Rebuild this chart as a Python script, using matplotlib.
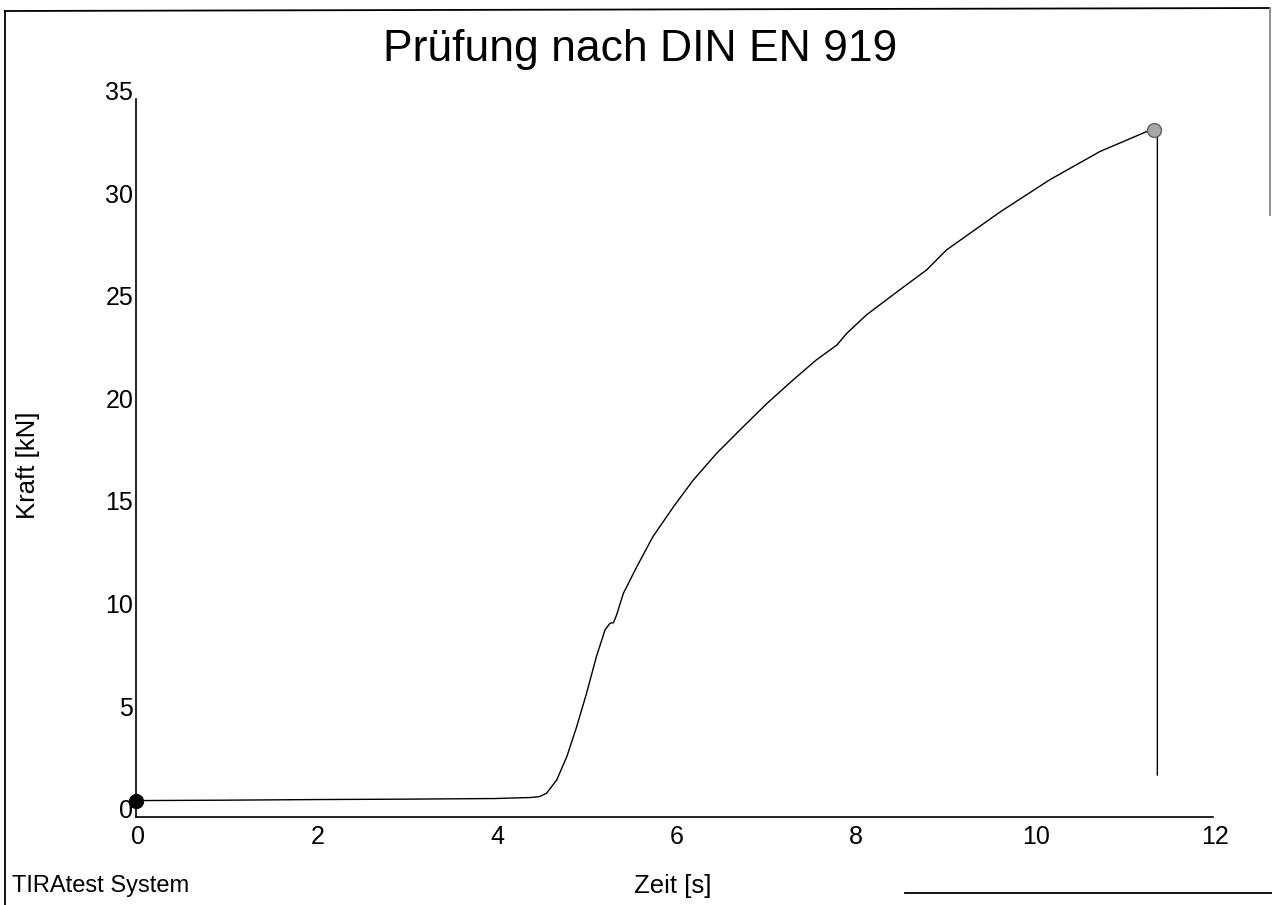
import matplotlib
matplotlib.use("Agg")
import matplotlib.pyplot as plt
import matplotlib.transforms as mtransforms
from matplotlib.lines import Line2D

# ---- data ----
zeit_s = [0.0, 1.0, 2.0, 3.0, 4.0, 4.4, 4.5, 4.575, 4.687, 4.8, 4.91, 5.02, 5.13,
          5.226, 5.28, 5.32, 5.355, 5.43, 5.58, 5.76, 5.99, 6.21, 6.47, 6.73,
          7.03, 7.32, 7.58, 7.81, 7.92, 8.14, 8.51, 8.81, 9.03, 9.63, 10.18,
          10.74, 11.26, 11.34, 11.38, 11.38]
kraft_kN = [0.8, 0.82, 0.85, 0.87, 0.9, 0.95, 1.0, 1.16, 1.8, 2.94, 4.4, 6.03, 7.82,
            9.12, 9.44, 9.47, 9.85, 10.9, 12.2, 13.67, 15.13, 16.43, 17.73, 18.87,
            20.16, 21.3, 22.28, 23.01, 23.58, 24.48, 25.7, 26.67, 27.64, 29.5, 31.06,
            32.44, 33.41, 33.5, 33.3, 2.05]
start_point = (0.0, 0.8)
max_point = (11.34, 33.5)
x_ticks = [0, 2, 4, 6, 8, 10, 12]
y_ticks = [0, 5, 10, 15, 20, 25, 30, 35]

title = "Prüfung nach DIN EN 919"
xlabel = "Zeit [s]"
ylabel = "Kraft [kN]"
footer = "TIRAtest System"

plt.rcParams['font.family'] = ['Liberation Sans', 'DejaVu Sans']

W, H = 1272, 905
fig = plt.figure(figsize=(W / 100, H / 100), dpi=100)
fig.patch.set_facecolor('white')

left, right, bottom, top = 136, 1213, 817, 99
ax = fig.add_axes([left / W, 1 - bottom / H, (right - left) / W, (bottom - top) / H])
ax.set_xlim(0, 12)
ax.set_ylim(0, 35)

ax.plot(zeit_s, kraft_kN, color='black', lw=1.0, clip_on=False)
ax.plot([start_point[0]], [start_point[1]], 'o', ms=10, color='black', clip_on=False, zorder=5)
ax.plot([max_point[0]], [max_point[1]], 'o', ms=10, markerfacecolor='#a8a8a8',
        markeredgecolor='#606060', markeredgewidth=1.0, clip_on=False, zorder=5)

for s in ['top', 'right']:
    ax.spines[s].set_visible(False)
ax.spines['left'].set_linewidth(1.2)
ax.spines['bottom'].set_linewidth(1.2)

ax.set_xticks(x_ticks)
ax.set_yticks(y_ticks)
ax.set_xticklabels([str(v) for v in x_ticks])
ax.set_yticklabels([str(v) for v in y_ticks])
ax.tick_params(axis='both', length=0, labelsize=18)
ax.tick_params(axis='x', pad=6)
ax.tick_params(axis='y', pad=2)
off = mtransforms.ScaledTranslation(0, 6 / 72, fig.dpi_scale_trans)
for lbl in ax.get_yticklabels():
    lbl.set_transform(lbl.get_transform() + off)
offx = mtransforms.ScaledTranslation(1.5 / 72, 0, fig.dpi_scale_trans)
for lbl in ax.get_xticklabels():
    lbl.set_transform(lbl.get_transform() + offx)

fig.text(640 / W, 1 - 50 / H, title, fontsize=32, ha='center', va='center')
fig.text(673 / W, 1 - 886 / H, xlabel, fontsize=18.5, ha='center', va='center')
fig.text(28 / W, 1 - 465 / H, ylabel, fontsize=18.5, ha='center', va='center', rotation=90)
fig.text(12 / W, 1 - 886 / H, footer, fontsize=17, ha='left', va='center')

# scan frame lines
def fl(x0, y0, x1, y1, c='black', lw=1.3):
    fig.add_artist(Line2D([x0 / W, x1 / W], [1 - y0 / H, 1 - y1 / H], color=c, lw=lw,
                          transform=fig.transFigure))

fl(5, 11, 1270, 8)
fl(5, 11, 5, 905)
fl(1270, 8, 1270, 215, c='#888888')
fl(905, 893, 1272, 893)

fig.savefig("out.png", dpi=100)
